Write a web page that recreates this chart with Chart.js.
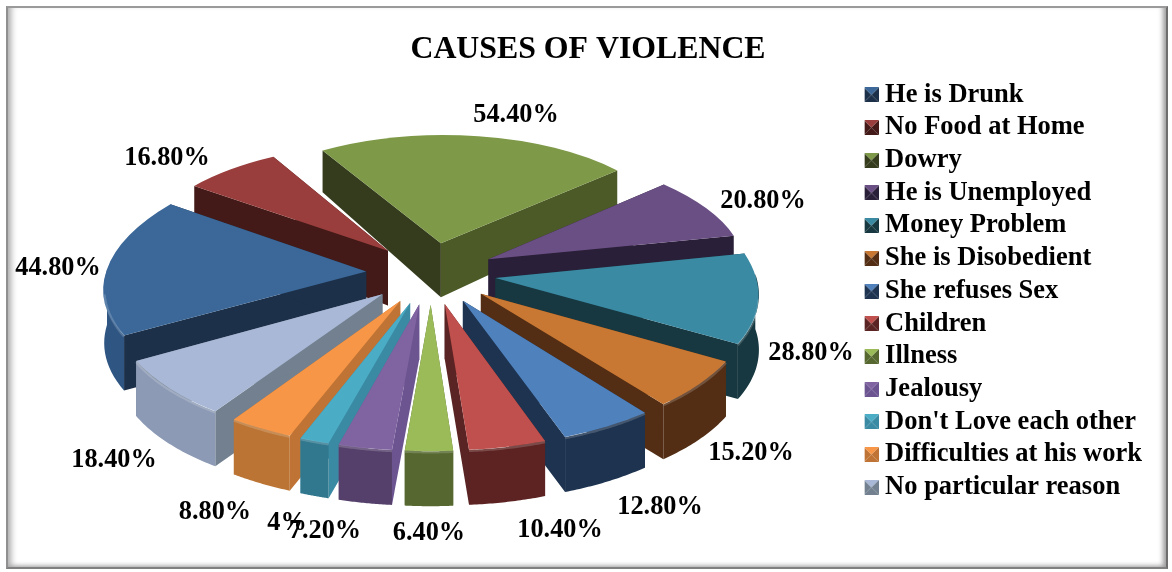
<!DOCTYPE html>
<html>
<head>
<meta charset="utf-8">
<title>Causes of Violence</title>
<script src="https://cdn.jsdelivr.net/npm/chart.js@4"></script>
<style>
  html, body { margin: 0; padding: 0; background: #fff; }
  #wrap { position: relative; width: 1172px; height: 572px; overflow: hidden; }
  #frame {
    position: absolute; left: 6px; top: 6px; width: 1162px; height: 563px;
    box-sizing: border-box; background: #fff;
    border-top: 2px solid #9a9a9a; border-left: 2px solid #909090;
    border-right: 2px solid #6e6e6e; border-bottom: 2px solid #808080;
    box-shadow: inset 7px 0 6px -4px #a8a8a8, inset -6px -4px 5px -3px #9a9a9a;
  }
  canvas { position: absolute; left: 0; top: 0; }
</style>
</head>
<body>
<div id="wrap">
  <div id="frame"></div>
  <canvas id="chart" width="1172" height="572"></canvas>
</div>
<script>
const categories = ['He is Drunk', 'No Food at Home', 'Dowry', 'He is Unemployed', 'Money Problem',
  'She is Disobedient', 'She refuses Sex', 'Children', 'Illness', 'Jealousy',
  "Don't Love each other", 'Difficulties at his work', 'No particular reason'];
const percentValues = [44.8, 16.8, 54.4, 20.8, 28.8, 15.2, 12.8, 10.4, 6.4, 7.2, 4, 8.8, 18.4];
const percentLabels = ['44.80%', '16.80%', '54.40%', '20.80%', '28.80%', '15.20%', '12.80%',
  '10.40%', '6.40%', '7.20%', '4%', '8.80%', '18.40%'];

const topColors = ['#3b6899', '#993e3c', '#7e9a48', '#6a4f84', '#3a8aa3', '#c87833', '#4f81bd',
  '#c0504d', '#9bbb59', '#8064a2', '#4bacc6', '#f79646', '#a9b8d6'];
const wallColors = ['#1d3049', '#431a18', '#353c1e', '#2a1f38', '#173840', '#532e14', '#1d3350',
  '#5a2424', '#56682f', '#6b5490', '#3b8aa3', '#bf7435', '#72808f'];
const rimColors = ['#2f5582', '#4a1d1b', '#4c5a28', '#2a1f38', '#173840', '#532e14', '#1d3350',
  '#5d2322', '#56682f', '#55406b', '#31788f', '#bb7433', '#8c9ab5'];

// centre of the exploded 3D pie on the page and the view of it
const CX = 431, CY = 273, RADIUS = 260, EXPLODE = 65, TILT = 0.475, PERSP = 2430;

// label centres, text only
const labelCentres = [[58, 268], [167, 158], [516, 115], [763, 201], [811, 353], [751, 453], [660, 507],
  [560, 530], [429, 533], [325, 531], [287, 523], [215, 512], [114, 460]];

function project(u, v) {
  const w = 1 / (1 - v / PERSP);
  return { x: CX + u * w, y: CY + v * TILT * w };
}

function depthAt(v) {
  return Math.min(55, 54 + 0.055 * (v + 65));
}

function fillQuad(ctx, pts, color) {
  ctx.beginPath();
  pts.forEach((p, i) => i ? ctx.lineTo(p.x, p.y) : ctx.moveTo(p.x, p.y));
  ctx.closePath();
  ctx.fillStyle = color;
  ctx.fill();
}

function drawSlice(ctx, arc, i) {
  const a0 = arc.startAngle, a1 = arc.endAngle, mid = (a0 + a1) / 2;
  const ex = Math.cos(mid) * EXPLODE, ey = Math.sin(mid) * EXPLODE;
  const flatAt = t => [ex + RADIUS * Math.cos(t), ey + RADIUS * Math.sin(t)];
  const lower = (u, v) => {
    const p = project(u, v);
    return { x: p.x, y: p.y + depthAt(v) };
  };

  const tip = project(ex, ey), tipLow = lower(ex, ey);
  const o0 = project(...flatAt(a0)), o0Low = lower(...flatAt(a0));
  const o1 = project(...flatAt(a1)), o1Low = lower(...flatAt(a1));

  // cut faces
  fillQuad(ctx, [tip, tipLow, o0Low, o0], wallColors[i]);
  fillQuad(ctx, [tip, tipLow, o1Low, o1], i === 2 ? rimColors[i] : wallColors[i]);

  // outer rim, only the part that faces the viewer
  const steps = 30, upper = [], under = [], edge = [];
  for (let s = 0; s <= steps; s++) {
    const t = a0 + (a1 - a0) * s / steps;
    if (Math.sin(t) < -0.05) continue;
    upper.push(project(...flatAt(t)));
    under.push(lower(...flatAt(t)));
    if (Math.sin(t) > 0.15) edge.push(upper[upper.length - 1]);
  }
  if (upper.length > 1) fillQuad(ctx, upper.concat(under.slice().reverse()), rimColors[i]);

  // top face is the library's own arc, mapped to the three projected corners
  const c0 = RADIUS * Math.cos(a0), s0 = RADIUS * Math.sin(a0);
  const c1 = RADIUS * Math.cos(a1), s1 = RADIUS * Math.sin(a1);
  const det = c0 * s1 - c1 * s0;
  const d0x = o0.x - tip.x, d0y = o0.y - tip.y, d1x = o1.x - tip.x, d1y = o1.y - tip.y;
  const a = (d0x * s1 - d1x * s0) / det, c = (d1x * c0 - d0x * c1) / det;
  const b = (d0y * s1 - d1y * s0) / det, d = (d1y * c0 - d0y * c1) / det;
  ctx.save();
  ctx.transform(a, b, c, d, tip.x - a * arc.x - c * arc.y, tip.y - b * arc.x - d * arc.y);
  arc.draw(ctx);
  ctx.restore();

  // soft bevel on the near edge
  if (edge.length > 1) {
    ctx.save();
    ctx.beginPath();
    edge.forEach((p, s) => s ? ctx.lineTo(p.x, p.y + 1) : ctx.moveTo(p.x, p.y + 1));
    ctx.lineWidth = 2.5;
    ctx.strokeStyle = 'rgba(255,255,255,0.18)';
    ctx.stroke();
    ctx.restore();
  }
}

const pie3d = {
  id: 'pie3d',
  afterLayout(chart) {
    // title is centred a little right of the space the legend leaves, legend a little lower
    chart.titleBlock.left += 12;
    chart.titleBlock.right += 12;
    chart.legend.top += 5;
    chart.legend.bottom += 5;
  },
  beforeDatasetDraw(chart, args) {
    const ctx = chart.ctx;
    const order = args.meta.data.map((arc, i) => ({ arc, i }));
    order.sort((p, q) => Math.sin((p.arc.startAngle + p.arc.endAngle) / 2) - Math.sin((q.arc.startAngle + q.arc.endAngle) / 2));
    order.forEach(o => drawSlice(ctx, o.arc, o.i));
    return false;
  },
  afterDraw(chart) {
    const ctx = chart.ctx;
    ctx.save();
    ctx.font = 'bold 26.3px "Liberation Serif"';
    ctx.fillStyle = '#000';
    ctx.textAlign = 'center';
    ctx.textBaseline = 'middle';
    percentLabels.forEach((txt, i) => ctx.fillText(txt, labelCentres[i][0], labelCentres[i][1]));
    ctx.restore();
  }
};

// little bevelled legend key
function makeSwatch(top, side, dark) {
  const n = 15, cv = document.createElement('canvas');
  cv.width = n; cv.height = n;
  const g = cv.getContext('2d');
  const tri = (pts, col) => {
    g.beginPath();
    pts.forEach((p, i) => i ? g.lineTo(p[0], p[1]) : g.moveTo(p[0], p[1]));
    g.closePath();
    g.fillStyle = col;
    g.fill();
  };
  const m = n / 2;
  tri([[0, 0], [0, n], [m, m]], side);
  tri([[n, 0], [n, n], [m, m]], side);
  tri([[0, 0], [n, 0], [m, m]], top);
  tri([[0, n], [n, n], [m, m]], dark);
  return cv;
}

new Chart(document.getElementById('chart'), {
  type: 'pie',
  plugins: [pie3d],
  data: {
    labels: categories,
    datasets: [{
      data: percentValues,
      backgroundColor: topColors,
      borderWidth: 0
    }]
  },
  options: {
    responsive: false,
    animation: false,
    rotation: -119.5,
    radius: RADIUS,
    layout: { padding: { right: 20, bottom: 0 } },
    plugins: {
      tooltip: { enabled: false },
      title: {
        display: true,
        text: 'CAUSES OF VIOLENCE',
        color: '#000',
        font: { family: '"Liberation Serif"', size: 31.8, weight: 'bold' },
        padding: { top: 31, bottom: 8 }
      },
      legend: {
        position: 'right',
        labels: {
          color: '#000',
          font: { family: '"Liberation Serif"', size: 26.5, weight: 'bold' },
          usePointStyle: true,
          pointStyleWidth: 1,
          boxHeight: 15,
          padding: 6.2,
          generateLabels: chart => categories.map((name, i) => ({
            text: name,
            fillStyle: topColors[i],
            strokeStyle: topColors[i],
            lineWidth: 0,
            pointStyle: makeSwatch(topColors[i], wallColors[i], wallColors[i]),
            index: i
          }))
        }
      }
    }
  }
});
</script>
</body>
</html>
